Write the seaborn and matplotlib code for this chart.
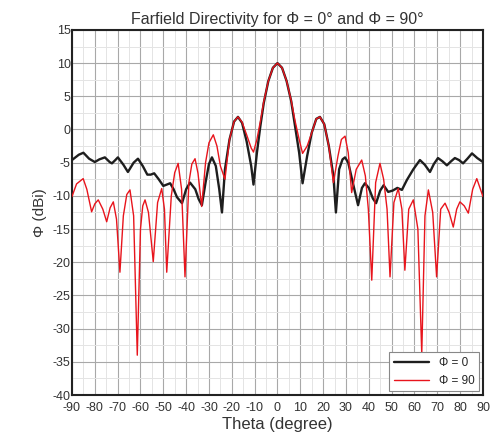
import numpy as np
import pandas as pd
import matplotlib
matplotlib.use("Agg")
import matplotlib.pyplot as plt
from matplotlib.ticker import MultipleLocator
import seaborn as sns

# Farfield directivity
theta_phi0 = [-90, -87, -85, -82.5, -80, -78, -75.6, -73.5, -72.5, -71, -69.9, -67.5,
              -65.5, -63, -61.1, -59, -57, -55.5, -54, -52, -50, -48.5, -47, -45.5,
              -44, -41.8, -40, -38.3, -36, -34.5, -33.1, -31.5, -30, -28.7, -27, -25.5,
              -24.3, -23, -21, -19, -17.3, -15.5, -13.5, -11.5, -10.5, -9, -7.5, -6,
              -4, -2, 0, 2, 4, 6, 7.7, 9.5, 11, 13, 15, 17, 18.6, 20.5, 22.5, 24.5,
              25.6, 27, 28.5, 29.6, 31, 33, 35.3, 37, 38.3, 40, 41.8, 43.2, 45, 46.5,
              48.5, 50.5, 52.5, 54.5, 56.7, 59.5, 62.4, 64.5, 66.8, 68.5, 70.3, 72.3,
              74.2, 76, 77.7, 79.5, 81.3, 83.2, 85.2, 87.5, 90]
dbi_phi0 = [-4.6, -3.8, -3.5, -4.4, -4.9, -4.5, -4.2, -4.9, -5.1, -4.6, -4.2, -5.3,
            -6.4, -5.0, -4.4, -5.5, -6.8, -6.8, -6.6, -7.5, -8.5, -8.3, -8.1, -9.0,
            -10.2, -11.1, -9.0, -8.0, -9.0, -10.5, -11.4, -8.0, -5.2, -4.2, -5.5, -9.0,
            -12.5, -6.0, -1.5, 1.2, 1.9, 1.0, -1.8, -5.5, -8.3, -3.5, 0.5, 4.0,
            7.3, 9.3, 10.0, 9.3, 7.3, 4.3, 0.5, -3.5, -8.1, -4.0, -0.5, 1.6, 1.9, 0.8,
            -2.5, -7.0, -12.5, -6.0, -4.5, -4.2, -5.0, -8.0, -11.4, -8.8, -8.1, -8.8,
            -10.4, -11.1, -9.2, -8.4, -9.4, -9.2, -8.8, -9.1, -7.6, -6.0, -4.6, -5.3,
            -6.4, -5.2, -4.3, -4.8, -5.4, -4.8, -4.3, -4.6, -5.1, -4.4, -3.6, -4.3, -4.9]

theta_phi90 = [-90, -88, -85.1, -83.5, -81.4, -80, -78.5, -76.5, -74.8, -73.3, -71.9,
               -70.5, -69, -67.5, -66, -64.6, -63, -61.4, -60, -59, -58, -56.5, -54.4,
               -52.5, -50.7, -49.5, -48.5, -46.5, -45, -43.5, -42, -40.5, -38.8, -37.5,
               -36.1, -34.8, -33.2, -31.5, -30, -28.1, -26.5, -25, -23, -21, -19, -17.3,
               -15.5, -13.5, -11.5, -10.5, -9, -7.5, -6, -4, -2, 0, 2, 4, 6, 7.7, 9.5,
               11, 13, 15, 17, 18.6, 20.5, 22.5, 24.5, 26.5, 28, 29.6, 31, 32.5, 34.5,
               36.9, 38.5, 39.8, 41.3, 43, 44.9, 46.5, 48, 49.3, 51, 52.9, 54.5, 55.8,
               57.5, 59.5, 61.5, 63.2, 64.6, 66.1, 68, 69.7, 71.5, 73.4, 75.2, 77, 78.5,
               79.9, 81.8, 83.6, 85.5, 87.3, 90]
dbi_phi90 = [-10.1, -8.2, -7.4, -9.0, -12.4, -11.2, -10.6, -12.0, -13.9, -11.8, -10.9,
             -13.5, -21.5, -13.0, -9.8, -9.1, -13.0, -34.0, -15.0, -11.5, -10.6, -12.5,
             -19.9, -11.0, -8.9, -12.0, -21.5, -10.0, -6.5, -5.1, -9.0, -22.2, -8.0,
             -5.2, -4.4, -6.6, -11.6, -5.0, -2.0, -0.8, -2.5, -5.5, -7.5, -1.5, 1.2,
             1.9, 1.1, -0.8, -2.8, -3.4, -1.5, 1.2, 4.2, 7.3, 9.3, 10.0, 9.3, 7.3, 4.4,
             1.3, -1.5, -3.6, -2.5, -0.5, 1.6, 1.9, 0.8, -2.5, -8.0, -4.0, -1.5, -1.0,
             -3.5, -9.5, -6.0, -4.6, -7.0, -12.0, -22.7, -8.0, -5.1, -7.5, -12.0, -22.2,
             -11.0, -8.9, -12.0, -21.2, -12.0, -10.6, -15.0, -33.8, -13.0, -9.1, -12.5,
             -22.2, -12.0, -11.1, -12.5, -14.7, -12.0, -10.9, -11.5, -12.6, -9.0, -7.4,
             -10.1]

x_ticks = list(range(-90, 91, 10))
y_ticks = list(range(-40, 16, 5))

sns.set_style("white")
plt.rcParams['font.family'] = ['Liberation Sans', 'DejaVu Sans']
plt.rcParams['axes.unicode_minus'] = False

fig = plt.figure(figsize=(4.91, 4.42), dpi=100)
ax = fig.add_axes([0.1466, 0.1063, 0.837, 0.826])

df0 = pd.DataFrame({"theta": theta_phi0, "dbi": dbi_phi0})
df90 = pd.DataFrame({"theta": theta_phi90, "dbi": dbi_phi90})

sns.lineplot(data=df0, x="theta", y="dbi", ax=ax, color="#1e1e1e", lw=1.7,
             label="Φ = 0", sort=False, zorder=3)
sns.lineplot(data=df90, x="theta", y="dbi", ax=ax, color="#e8141c", lw=1.0,
             label="Φ = 90", sort=False, zorder=4)

ax.set_xlim(-90, 90)
ax.set_ylim(-40, 15)
ax.set_xticks(x_ticks)
ax.set_yticks(y_ticks)
ax.xaxis.set_minor_locator(MultipleLocator(5))
ax.yaxis.set_minor_locator(MultipleLocator(2.5))
ax.grid(which="major", color="#a8a8a8", lw=0.8)
ax.grid(which="minor", color="#e4e4e4", lw=0.7)
ax.set_axisbelow(True)
ax.tick_params(axis="both", which="major", labelsize=9, length=0,
               labelcolor="#333333")
ax.tick_params(axis="x", pad=5)
ax.tick_params(axis="y", pad=1)
ax.tick_params(which="minor", length=0)
for sp in ax.spines.values():
    sp.set_color("#222222")
    sp.set_linewidth(1.5)

ax.set_title("Farfield Directivity for Φ = 0° and Φ = 90°", fontsize=11.5,
             color="#333333", pad=4)
ax.set_xlabel("Theta (degree)", fontsize=12, color="#333333", labelpad=2)
ax.set_ylabel("Φ (dBi)", fontsize=11, color="#333333", labelpad=4)

leg = ax.legend(loc="lower right", fontsize=8.5, handlelength=3, fancybox=False,
                framealpha=1, edgecolor="#888888", borderaxespad=0.3)
leg.get_frame().set_linewidth(0.8)

fig.savefig("out.png", dpi=100)
